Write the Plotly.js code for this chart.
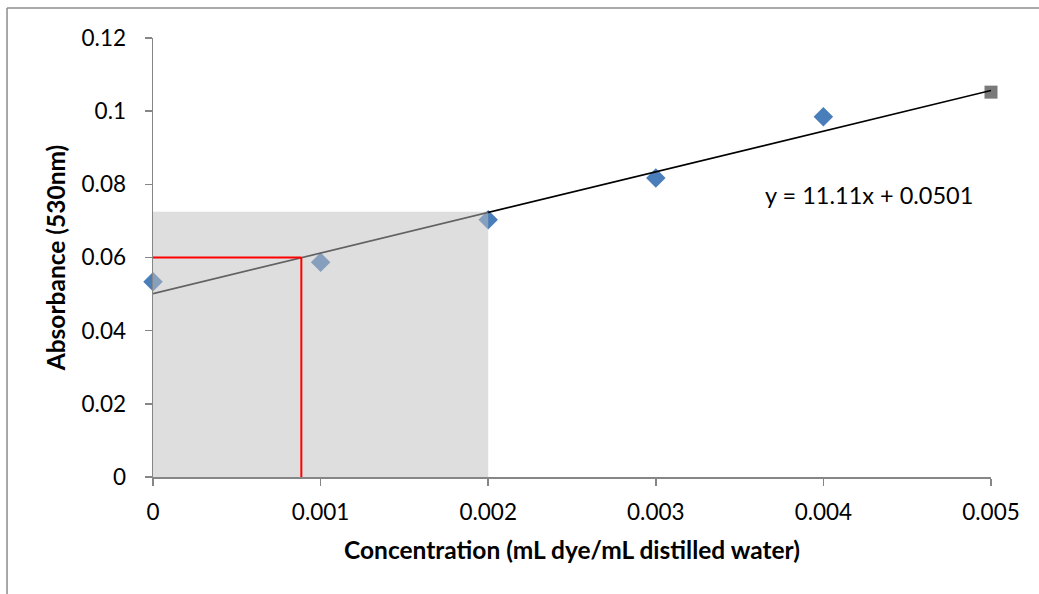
<!DOCTYPE html>
<html>
<head>
<meta charset="utf-8">
<script src="https://cdn.plot.ly/plotly-3.0.1.min.js"></script>
<style>html,body{margin:0;padding:0;background:#fff;}#chart{width:1039px;height:594px;}</style>
</head>
<body>
<div id="chart"></div>
<script>
// Standard data
const concentration = [0, 0.001, 0.002, 0.003, 0.004];
const absorbance = [0.0534, 0.0587, 0.0703, 0.0817, 0.0985];
// Extra point (grey square)
const extraX = [0.005];
const extraY = [0.1052];
// Linear trendline endpoints: y = 11.11x + 0.0501
const trendX = [0, 0.005];
const trendY = [0.0501, 0.10565];
const equationText = "y = 11.11x + 0.0501";
// Shaded region and reading lines
const shadeX = [0, 0.002];
const shadeY = [0, 0.0725];
const readX = 0.000885;
const readY = 0.06;
const xTicks = [0, 0.001, 0.002, 0.003, 0.004, 0.005];
const xTickLabels = ["0", "0.001", "0.002", "0.003", "0.004", "0.005"];
const yTicks = [0, 0.02, 0.04, 0.06, 0.08, 0.1, 0.12];
const yTickLabels = ["0", "0.02", "0.04", "0.06", "0.08", "0.1", "0.12"];

const FONT = "Lato, 'Open Sans', sans-serif";
const axisColor = "#868686";

const traces = [
  {
    x: concentration, y: absorbance, type: "scatter", mode: "markers",
    marker: {symbol: "diamond", size: 15, color: "#4a7ebb"},
    cliponaxis: false, showlegend: false, hoverinfo: "x+y"
  },
  {
    x: extraX, y: extraY, type: "scatter", mode: "markers",
    marker: {symbol: "square", size: 13, color: "#7a7a7a"},
    cliponaxis: false, showlegend: false
  },
  {
    x: trendX, y: trendY, type: "scatter", mode: "lines",
    line: {color: "#000000", width: 1.7},
    cliponaxis: false, showlegend: false
  }
];

const layout = {
  width: 1039, height: 594,
  margin: {l: 153, r: 48, t: 38, b: 117, pad: 0},
  paper_bgcolor: "#ffffff", plot_bgcolor: "#ffffff",
  font: {family: FONT, color: "#000000", size: 22},
  showlegend: false,
  xaxis: {
    range: [0, 0.005], tickvals: xTicks, ticktext: xTickLabels,
    showgrid: false, zeroline: false, showline: true, linecolor: axisColor, linewidth: 1.5,
    ticks: "outside", ticklen: 7, tickcolor: axisColor, tickwidth: 1.5,
    tickfont: {family: FONT, size: 22.5, color: "#000"},
    ticklabelstandoff: 7,
    title: {text: "Concentration (mL dye/mL distilled water)", font: {family: FONT, size: 24.5, color: "#000", weight: "bold"}, standoff: 18}
  },
  yaxis: {
    range: [0, 0.12], tickvals: yTicks, ticktext: yTickLabels,
    showgrid: false, zeroline: false, showline: true, linecolor: axisColor, linewidth: 1.5,
    ticks: "outside", ticklen: 7, tickcolor: axisColor, tickwidth: 1.5,
    tickfont: {family: FONT, size: 22.5, color: "#000"},
    ticklabelstandoff: 14,
    title: {text: "Absorbance (530nm)", font: {family: FONT, size: 24.5, color: "#000", weight: "bold"}, standoff: 9}
  },
  shapes: [
    {type: "rect", xref: "x", yref: "y", x0: shadeX[0], x1: shadeX[1], y0: shadeY[0], y1: shadeY[1],
     fillcolor: "rgba(191,191,191,0.514)", line: {width: 0}, layer: "above"},
    {type: "line", xref: "x", yref: "y", x0: -0.00002, x1: readX, y0: readY, y1: readY,
     line: {color: "#ff0000", width: 2}, layer: "above"},
    {type: "line", xref: "x", yref: "y", x0: readX, x1: readX, y0: readY, y1: -0.0009,
     line: {color: "#ff0000", width: 2}, layer: "above"},
    {type: "line", xref: "paper", yref: "paper", x0: -0.1742, x1: -0.1742, y0: -0.3, y1: 1.0683,
     line: {color: "#8c8c8c", width: 1.5}},
    {type: "line", xref: "paper", yref: "paper", x0: -0.1742, x1: 1.1, y0: 1.0683, y1: 1.0683,
     line: {color: "#8c8c8c", width: 1.5}}
  ],
  annotations: [
    {x: 0.004272, y: 0.0771, xref: "x", yref: "y", text: equationText, showarrow: false,
     font: {family: FONT, size: 23.5, color: "#000"}, xanchor: "center", yanchor: "middle"}
  ]
};

Plotly.newPlot("chart", traces, layout, {displayModeBar: false, staticPlot: true});
</script>
</body>
</html>
